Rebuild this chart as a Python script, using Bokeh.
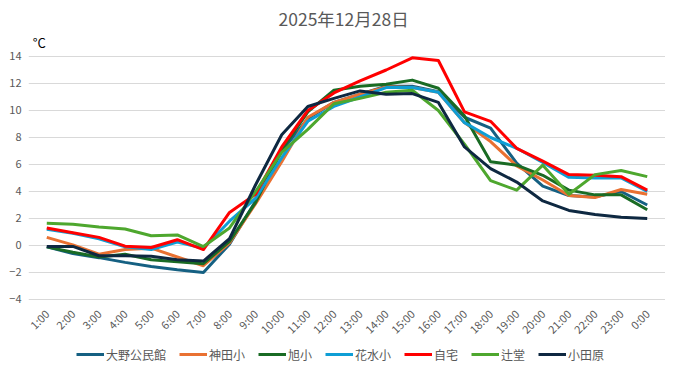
from bokeh.plotting import figure
from bokeh.models import FactorRange, Range1d, FixedTicker, Legend, LegendItem, Label
from bokeh.embed import file_html
from bokeh.resources import INLINE
import math

hours = ["1:00", "2:00", "3:00", "4:00", "5:00", "6:00", "7:00", "8:00", "9:00", "10:00",
         "11:00", "12:00", "13:00", "14:00", "15:00", "16:00", "17:00", "18:00", "19:00",
         "20:00", "21:00", "22:00", "23:00", "0:00"]

ono = [-0.1, -0.6, -0.9, -1.25, -1.55, -1.8, -2.0, 0.1, 3.3, 7.0, 9.4, 10.6, 11.2, 11.8,
       11.8, 11.4, 9.5, 8.7, 6.1, 4.4, 3.7, 3.6, 4.0, 3.0]
kanda = [0.6, 0.05, -0.65, -0.3, -0.2, -0.85, -1.5, 0.2, 3.1, 6.2, 9.5, 10.6, 11.2, 11.75,
         11.7, 11.35, 9.1, 7.7, 5.9, 4.85, 3.7, 3.55, 4.15, 3.8]
asahi = [-0.1, -0.5, -0.85, -0.65, -1.05, -1.2, -1.35, 0.3, 3.2, 7.1, 9.9, 11.5, 11.8, 11.95,
         12.25, 11.65, 9.6, 6.2, 5.95, 5.2, 4.1, 3.75, 3.75, 2.65]
hanamizu = [1.2, 0.9, 0.5, -0.1, -0.3, 0.25, -0.2, 1.8, 3.5, 6.5, 9.2, 10.3, 11.0, 11.7,
            11.7, 11.35, 9.1, 8.0, 7.2, 6.15, 5.05, 5.0, 5.0, 4.0]
jitaku = [1.3, 0.95, 0.6, -0.05, -0.15, 0.43, -0.3, 2.45, 3.8, 7.3, 10.0, 11.3, 12.2, 13.0,
          13.9, 13.7, 9.9, 9.2, 7.2, 6.25, 5.25, 5.2, 5.1, 4.1]
tsujido = [1.65, 1.57, 1.37, 1.22, 0.72, 0.78, -0.08, 1.3, 4.0, 6.9, 8.6, 10.5, 10.9, 11.35,
           11.5, 10.0, 7.5, 4.8, 4.1, 5.95, 3.8, 5.25, 5.55, 5.1]
odawara = [-0.07, -0.07, -0.76, -0.76, -0.8, -1.05, -1.15, 0.5, 4.5, 8.2, 10.3, 10.9, 11.45,
           11.2, 11.25, 10.6, 7.3, 5.7, 4.7, 3.3, 2.6, 2.3, 2.1, 2.0]

series_names = ["大野公民館", "神田小", "旭小", "花水小", "自宅", "辻堂", "小田原"]
series_values = [ono, kanda, asahi, hanamizu, jitaku, tsujido, odawara]
series_colors = ["#156082", "#E97132", "#196B24", "#0F9ED5", "#FF0000", "#4EA72E", "#0E2841"]

y_ticks = [-4, -2, 0, 2, 4, 6, 8, 10, 12, 14]
title_text = "2025年12月28日"
unit_text = "°C"

FONT = "Noto Sans CJK JP"
GREY = "#595959"

# frame covers the whole figure height; the plot area (-4..14) sits inside it
p = figure(width=665, height=363,
           x_range=FactorRange(*hours, range_padding=0.2, range_padding_units="absolute"),
           y_range=Range1d(-8.741, 18.148), output_backend="svg", toolbar_location=None,
           min_border_left=28, min_border_right=0, min_border_top=0, min_border_bottom=0)
p.outline_line_color = None
p.background_fill_color = "white"
p.border_fill_color = "white"

p.xgrid.grid_line_color = None
p.ygrid.grid_line_color = "#D9D9D9"
p.ygrid.grid_line_width = 1
p.yaxis.ticker = FixedTicker(ticks=y_ticks)

for ax in (p.xaxis[0], p.yaxis[0]):
    ax.axis_line_color = None
    ax.major_tick_line_color = None
    ax.minor_tick_line_color = None
    ax.major_tick_out = 0
    ax.major_tick_in = 0
    ax.major_label_text_color = GREY
    ax.major_label_text_font = FONT
    ax.major_label_text_font_size = "11px"

p.yaxis.major_label_standoff = 7
p.xaxis.fixed_location = y_ticks[0]
p.xaxis.major_label_standoff = 12
p.xaxis.major_label_orientation = math.pi / 4

items = []
for name, vals, col in zip(series_names, series_values, series_colors):
    r = p.line(hours, vals, line_color=col, line_width=3, line_join="round")
    items.append(LegendItem(label=name, renderers=[r]))

legend = Legend(items=items, orientation="horizontal", location=(48, 0),
                glyph_width=28, glyph_height=18, label_standoff=2, spacing=13,
                padding=0, margin=0, border_line_color=None, background_fill_alpha=0,
                label_text_font=FONT, label_text_font_size="12px", label_text_color=GREY)
p.add_layout(legend, "center")

p.add_layout(Label(x=11.87, y=16.82, text=title_text, text_font=FONT, text_font_size="17.5px",
                   text_color=GREY, text_align="center", text_baseline="middle"))
p.add_layout(Label(x=0, y=15.04, text=unit_text, text_font=FONT, text_font_size="13px",
                   text_color="black", text_align="left", text_baseline="middle", x_offset=-1))

open("out.html", "w").write(file_html(p, INLINE))
